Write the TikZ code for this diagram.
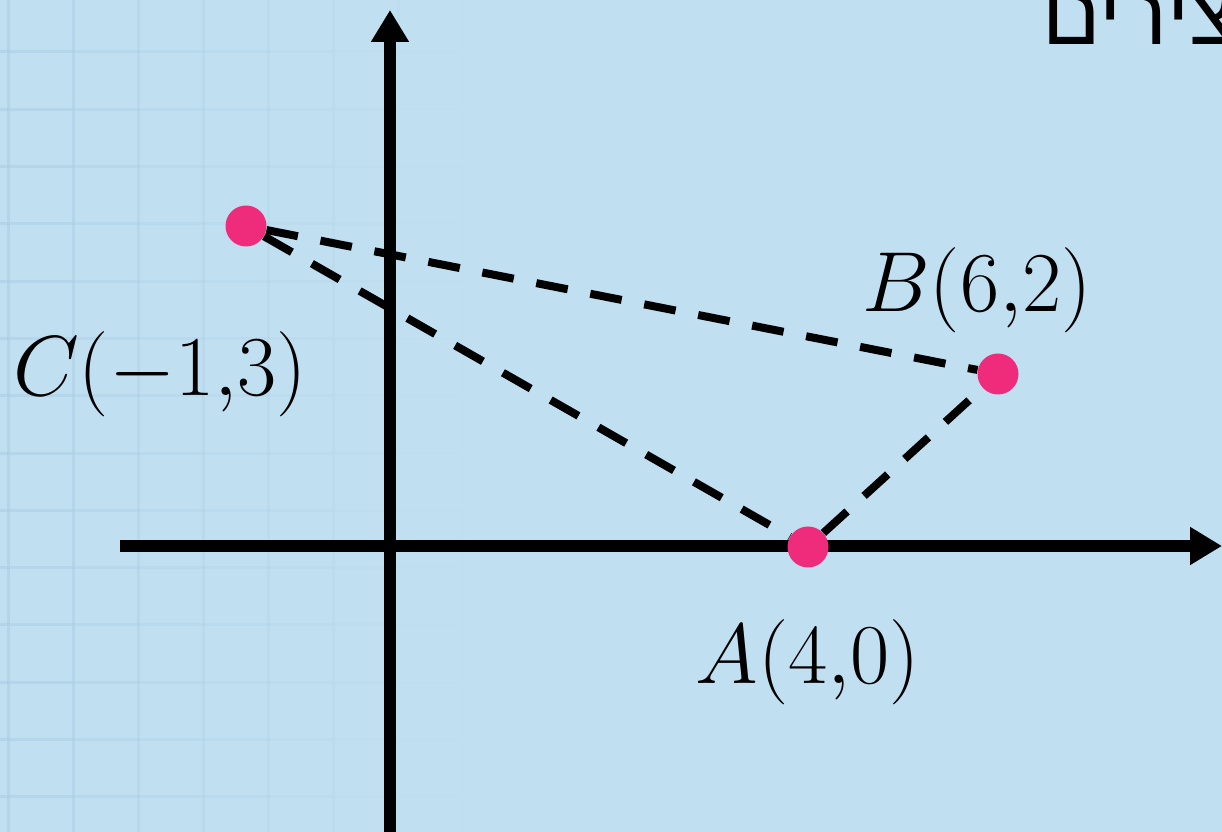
\RequirePackage{fix-cm}
\documentclass[tikz,border=0pt]{standalone}
\usepackage{fontspec}
\usepackage{tikz}
\usetikzlibrary{positioning,arrows.meta}
\newfontfamily\hebfont[Script=Hebrew]{Liberation Sans}
\TeXXeTstate=1
\definecolor{cBack}{RGB}{192,223,241}
\definecolor{cGrid}{RGB}{168,203,226}
\definecolor{cPoint}{RGB}{238,44,123}

\begin{document}
\begin{tikzpicture}[x=0.2mm,y=0.2mm,node distance=5mm]
\tikzset{axis/.style={line width=2.4mm,-{Triangle[length=6.4mm,width=7.2mm]}},
  pt/.style={circle,fill=cPoint,inner sep=0pt,minimum size=8.2mm},
  side/.style={line width=1.6mm,dash pattern=on 6.4mm off 4.6mm},
  lbl/.style={inner sep=0pt,font=\fontsize{48.5}{58}\selectfont}}
\useasboundingbox (0,0) rectangle (1222,832);
\clip (0,0) rectangle (1222,832);
\fill[cBack] (0,0) rectangle (1222,832);
% faint grid, fading to the right
\foreach \i in {0,...,7}{
  \pgfmathsetmacro\gx{8+65*\i}
  \pgfmathsetmacro\go{0.5*max(0,1-\gx/470)}
  \draw[cGrid,line width=0.6mm,opacity=\go] (\gx,0) -- (\gx,832);
  \foreach \j in {0,...,13}{
    \pgfmathsetmacro\gy{832-52-57.3*\j}
    \draw[cGrid,line width=0.6mm,opacity=\go] (\gx-65,\gy) -- (\gx,\gy);
  }
}
% axes
\coordinate (xs) at (120,286);
\coordinate (xe) at (1222,286);
\coordinate (ys) at (390,0);
\coordinate (ye) at (390,822);
\draw[axis] (xs) -- (xe);
\draw[axis] (ys) -- (ye);
% triangle
\node[pt] (A) at (808,285) {};
\node[pt] (B) at (998,458) {};
\node[pt] (C) at (246,606) {};
\draw[side] (C) -- (B);
\draw[side] (C) -- (A);
\draw[side] (A) -- (B);
\node[lbl,above=8.4mm of B,anchor=base,xshift=-4.2mm] (Blbl) {$B(6{,}2)$};
\node[lbl,below=23.2mm of A,anchor=base] (Albl) {$A(4{,}0)$};
\node[lbl,below=29.8mm of C,anchor=base,xshift=-17.2mm] (Clbl) {$C(-1{,}3)$};
\node[inner sep=0pt,anchor=base west,font=\hebfont\fontsize{49}{58}\selectfont] (title) at (1042,787) {\beginR צירים\endR};
\end{tikzpicture}
\end{document}
